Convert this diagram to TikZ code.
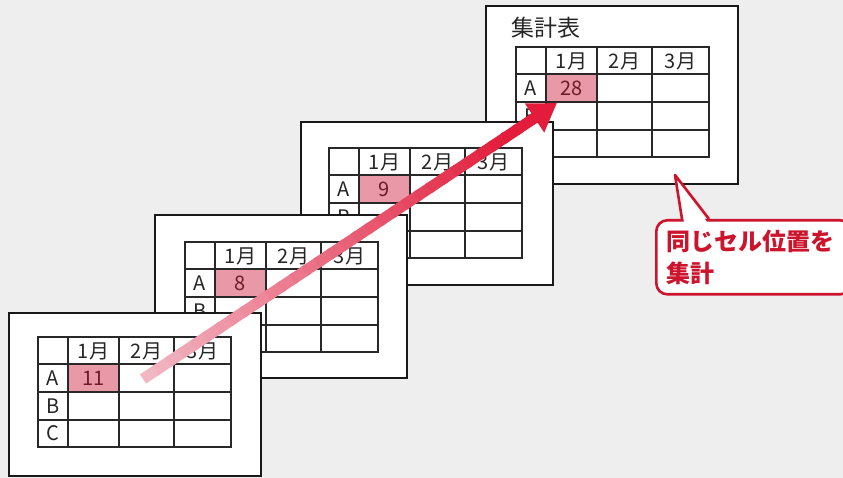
\documentclass[tikz,border=0pt]{standalone}
\usepackage{fontspec}
\setmainfont{Noto Sans CJK JP}
\usetikzlibrary{calc,arrows.meta}
\definecolor{pagegray}{RGB}{238,238,238}
\definecolor{cellpink}{RGB}{232,152,166}
\definecolor{numred}{RGB}{105,28,38}
\definecolor{arrowred}{RGB}{226,28,58}
\definecolor{arrowpink}{RGB}{242,188,200}
\definecolor{calloutred}{RGB}{205,20,45}
\definecolor{linegray}{RGB}{40,40,40}
\tikzset{
  sheetbox/.style={draw=black!90,line width=1.5pt,fill=white},
  gridline/.style={draw=linegray,line width=1.1pt},
  hdr/.style={font=\fontsize{20}{20}\selectfont,text=black!85,inner sep=0pt},
  valtext/.style={font=\fontsize{20}{20}\selectfont,text=numred,inner sep=0pt},
  titletext/.style={font=\fontsize{23}{23}\selectfont,text=black!85,inner sep=0pt,anchor=west},
  calloutbox/.style={draw=calloutred,line width=2.6pt,fill=white,rounded corners=11pt,
    anchor=north west,minimum width=192pt,minimum height=74pt,text width=175pt,
    inner xsep=10pt,align=left,text=calloutred,
    font=\fontsize{24}{32}\selectfont\bfseries},
}
% table: name, left, top, value in A/1月, row labels
\newcommand{\drawtable}[5]{%
  \fill[cellpink] (#2+30,#3+27) rectangle (#2+81,#3+55);
  \draw[gridline] (#2,#3) rectangle (#2+193,#3+110);
  \foreach \ry in {27,55,83} \draw[gridline] (#2,#3+\ry) -- (#2+193,#3+\ry);
  \foreach \cx in {30,81,136} \draw[gridline] (#2+\cx,#3) -- (#2+\cx,#3+110);
  \foreach \m/\cx in {1/55.5,2/108.5,3/164.5}
    \node[hdr] (#1-h\m) at (#2+\cx,#3+14) {\m 月};
  \foreach \r/\ry in {#5}
    \node[hdr] (#1-\r) at (#2+15,#3+\ry) {\r};
  \node[valtext] (#1-val) at (#2+55.5,#3+41) {#4};
}
\begin{document}
\begin{tikzpicture}[x=1pt,y=-1pt]
  \useasboundingbox (0,0) rectangle (843,478);
  \clip (0,0) rectangle (843,478);
  \fill[pagegray] (0,0) rectangle (843,478);

  \draw[sheetbox] (486,6) rectangle (738,184);
  \node[titletext] (sumtitle) at (511,28) {集計表};
  \drawtable{sum}{516}{47}{28}{A/41,B/69}

  \draw[sheetbox] (301,122) rectangle (553,285);
  \drawtable{mar}{329}{148}{9}{A/41,B/69}

  \draw[sheetbox] (155,215) rectangle (407,378);
  \drawtable{feb}{185}{242}{8}{A/41,B/69}

  \draw[sheetbox] (9,313) rectangle (261,476);
  \drawtable{jan}{38}{337}{11}{A/41,B/69,C/96.5}

  \coordinate (arrstart) at (143,379);
  \coordinate (arrtip) at (557,103);
  \coordinate (arrmid) at ($(arrstart)!0.9!(arrtip)$);
  \foreach \i in {1,...,30}{
    \pgfmathsetmacro\pc{100*\i/30}
    \draw[line width=11pt,color=arrowred!\pc!arrowpink]
      ($(arrstart)!{(\i-1)/30}!(arrmid)$) -- ($(arrstart)!{(\i+0.3)/30}!(arrmid)$);
  }
  \draw[arrowred,line width=11pt,-{Triangle[length=27pt,width=33pt]}] (arrmid) -- (arrtip);

  \node[calloutbox] (note) at (655,219) {同じセル位置を\\集計};
  \coordinate (tailtip) at (675,175);
  \fill[white] (684,222) -- (tailtip) -- (707,222) -- cycle;
  \draw[calloutred,line width=2.6pt,line join=round] (682,219) -- (tailtip) -- (709,219);
\end{tikzpicture}
\end{document}
